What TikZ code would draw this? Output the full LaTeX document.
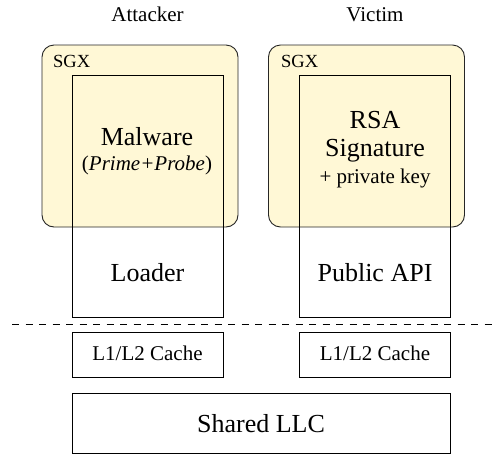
\documentclass[tikz,border=0pt]{standalone}
\usepackage{fontspec}
\setmainfont{Liberation Serif}
\definecolor{sgxfill}{RGB}{255,248,214}
\tikzset{
  sgxbox/.style={draw=black!85, fill=sgxfill, rounded corners=12pt, line width=0.9pt, inner sep=0pt, minimum width=196pt, minimum height=182pt},
  procbox/.style={draw=black, line width=0.9pt, inner sep=0pt, minimum width=151pt, minimum height=242pt},
  cachebox/.style={draw=black, line width=0.9pt, inner sep=0pt, minimum width=151pt, minimum height=45pt},
  llcbox/.style={draw=black, line width=0.9pt, inner sep=0pt, minimum width=378pt, minimum height=60pt},
  lbl/.style={anchor=base, inner sep=0pt},
  big/.style={font=\fontsize{26}{30}\selectfont},
  mid/.style={font=\fontsize{21}{25}\selectfont},
  sml/.style={font=\fontsize{18.5}{22}\selectfont},
}
\begin{document}
\begin{tikzpicture}[x=1pt,y=-1pt]
\useasboundingbox (0,0) rectangle (493,456);
% SGX enclaves
\node[sgxbox] (sgxA) at (140,136) {};
\node[sgxbox] (sgxV) at (366.5,136) {};
% process boxes
\node[procbox] (procA) at (147.5,196) {};
\node[procbox] (procV) at (374.5,196) {};
% caches
\node[cachebox] (l1A) at (147.5,354.5) {};
\node[cachebox] (l1V) at (374.5,354.5) {};
\node[llcbox] (llc) at (261,423) {};
% dashed separator
\coordinate (sepL) at (12,324);
\coordinate (sepR) at (493,324);
\draw[dash pattern=on 7pt off 6.5pt, line width=0.8pt] (sepL) -- (sepR);
% labels
\node[lbl, mid] (attacker) at (147.5,21) {Attacker};
\node[lbl, mid] (victim) at (375,21) {Victim};
\node[lbl, sml, anchor=base west] (sgxAl) at (53,67) {SGX};
\node[lbl, sml, anchor=base west] (sgxVl) at (281,67) {SGX};
\node[lbl, big] (malware) at (147,145) {Malware};
\node[lbl, mid] (pp) at (147,170) {(\textit{Prime+Probe})};
\node[lbl, big] (rsa) at (375,128) {RSA};
\node[lbl, big] (sig) at (375,156) {Signature};
\node[lbl, mid] (pk) at (375,183) {+ private key};
\node[lbl, big] (loader) at (147.5,281) {Loader};
\node[lbl, big] (api) at (375,281) {Public API};
\node[lbl, mid] (cA) at (147.5,360.5) {L1/L2 Cache};
\node[lbl, mid] (cV) at (375,360.5) {L1/L2 Cache};
\node[lbl, big] (shared) at (261,432.5) {Shared LLC};
\end{tikzpicture}
\end{document}
